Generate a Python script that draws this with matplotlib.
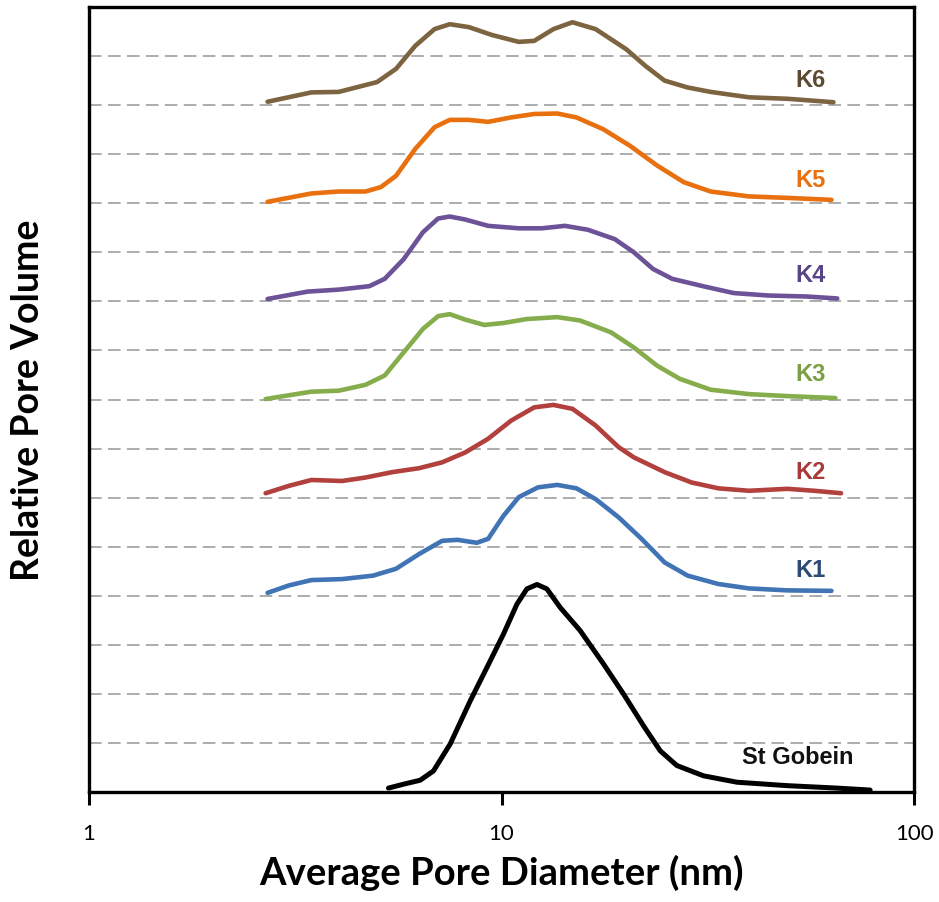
import matplotlib
matplotlib.use("Agg")
import matplotlib.pyplot as plt

# pore diameter (nm) and relative pore volume (curves are stacked with offsets)
k6_d = [2.71, 3.46, 4.03, 4.99, 5.55, 6.18, 6.88, 7.49, 8.34, 9.48, 11.01, 12.00,
        13.36, 14.86, 16.91, 20.06, 22.33, 24.85, 28.27, 32.14, 39.81, 49.32, 63.78]
k6_v = [14.07, 14.26, 14.27, 14.47, 14.74, 15.21, 15.55, 15.65, 15.59, 15.43, 15.29, 15.31,
        15.55, 15.69, 15.55, 15.14, 14.80, 14.50, 14.36, 14.27, 14.16, 14.13, 14.06]

k5_d = [2.71, 3.46, 4.03, 4.68, 5.10, 5.55, 6.18, 6.88, 7.49, 8.34, 9.28, 10.55,
        12.00, 13.65, 15.19, 17.64, 20.50, 23.83, 27.66, 32.14, 39.81, 49.32, 63.06]
k5_v = [12.03, 12.20, 12.24, 12.24, 12.33, 12.56, 13.11, 13.55, 13.70, 13.70, 13.66, 13.75,
        13.82, 13.83, 13.75, 13.51, 13.17, 12.77, 12.43, 12.24, 12.14, 12.11, 12.07]

k4_d = [2.71, 3.39, 4.03, 4.78, 5.21, 5.79, 6.45, 7.02, 7.49, 8.16, 9.28, 11.01,
        12.52, 14.25, 16.20, 18.81, 20.94, 23.31, 25.93, 30.79, 36.54, 44.31, 54.89, 65.14]
k4_v = [10.05, 10.20, 10.24, 10.31, 10.46, 10.86, 11.41, 11.69, 11.73, 11.67, 11.54, 11.49,
        11.49, 11.54, 11.46, 11.27, 11.00, 10.66, 10.46, 10.31, 10.17, 10.12, 10.10, 10.06]

k3_d = [2.68, 3.46, 4.03, 4.68, 5.21, 5.79, 6.45, 7.02, 7.49, 8.16, 9.08, 10.11,
        11.50, 13.65, 15.51, 18.42, 20.94, 23.83, 27.08, 32.14, 39.81, 49.32, 64.47]
k3_v = [8.01, 8.16, 8.18, 8.30, 8.49, 8.96, 9.44, 9.70, 9.74, 9.63, 9.52, 9.56,
        9.64, 9.68, 9.61, 9.37, 9.06, 8.69, 8.42, 8.20, 8.11, 8.07, 8.03]

k2_d = [2.68, 3.05, 3.46, 4.11, 4.68, 5.43, 6.31, 7.18, 8.16, 9.28, 10.55, 12.00,
        13.36, 14.86, 16.91, 19.22, 20.94, 24.85, 28.87, 33.54, 39.81, 49.32, 57.30, 66.55]
k2_v = [6.09, 6.24, 6.36, 6.34, 6.41, 6.52, 6.60, 6.72, 6.92, 7.20, 7.57, 7.84,
        7.89, 7.81, 7.47, 7.03, 6.82, 6.52, 6.31, 6.19, 6.14, 6.18, 6.14, 6.09]

k1_d = [2.71, 3.05, 3.46, 4.11, 4.88, 5.55, 6.31, 7.18, 7.82, 8.71, 9.28, 10.11, 11.01,
        12.26, 13.65, 15.19, 16.91, 19.22, 21.85, 24.85, 28.27, 33.54, 39.81, 49.32, 63.06]
k1_v = [4.06, 4.21, 4.32, 4.34, 4.41, 4.55, 4.85, 5.12, 5.14, 5.08, 5.16, 5.63, 6.01,
        6.21, 6.26, 6.19, 5.97, 5.60, 5.16, 4.68, 4.41, 4.24, 4.15, 4.11, 4.10]

sg_d = [5.32, 5.79, 6.35, 6.84, 7.51, 8.40, 9.22, 10.11, 10.90, 11.52, 12.19, 12.88,
        13.88, 15.51, 17.67, 19.75, 22.09, 24.25, 26.61, 30.88, 37.20, 49.18, 65.01, 78.26]
sg_v = [0.08, 0.16, 0.24, 0.43, 0.98, 1.86, 2.54, 3.22, 3.83, 4.14, 4.23, 4.14,
        3.76, 3.29, 2.61, 2.00, 1.35, 0.84, 0.54, 0.33, 0.20, 0.13, 0.08, 0.04]

names = ["St Gobein", "K1", "K2", "K3", "K4", "K5", "K6"]
label_x = [38.3, 51.5, 51.5, 51.5, 51.5, 51.5, 51.5]
label_y = [0.73, 4.53, 6.54, 8.54, 10.54, 12.49, 14.53]

line_colors = ["#000000", "#4174b4", "#b2403d", "#85ad4c", "#6c5398", "#e8700f", "#7d6440"]
text_colors = ["#111111", "#2c4a72", "#a83a3a", "#7aa043", "#5a4488", "#e8700f", "#5c4a30"]

fig = plt.figure(figsize=(9.39, 9.03), dpi=100)
ax = fig.add_axes([0.0948, 0.1218, 0.8786, 0.8693])

curves = [(sg_d, sg_v), (k1_d, k1_v), (k2_d, k2_v), (k3_d, k3_v),
          (k4_d, k4_v), (k5_d, k5_v), (k6_d, k6_v)]

for i, (d, v) in enumerate(curves):
    lw = 3.6 if i == 0 else 3.3
    ax.plot(d, v, color=line_colors[i], lw=lw, solid_capstyle="round",
            solid_joinstyle="round", zorder=3)
    ax.text(label_x[i], label_y[i], names[i], color=text_colors[i],
            fontsize=17, fontweight="bold", family="Liberation Sans",
            va="center", ha="left", zorder=4)

ax.set_xscale("log")
ax.set_xlim(1, 100)
ax.set_ylim(0, 16)
ax.set_yticks(range(1, 16))
ax.set_yticklabels([])
ax.tick_params(axis="y", length=0)
ax.set_xticks([1, 10, 100])
ax.set_xticklabels(["1", "10", "100"])
ax.xaxis.set_minor_locator(matplotlib.ticker.NullLocator())
ax.tick_params(axis="x", direction="out", length=9, width=2.2, labelsize=16, pad=13)
for lab in ax.get_xticklabels():
    lab.set_family("Lato")

ax.grid(axis="y", color="#a6a6a6", linestyle=(0, (7, 3.5)), lw=1.3, zorder=1)
ax.grid(axis="x", visible=False)

for s in ax.spines.values():
    s.set_linewidth(2.4)
    s.set_color("black")

ax.set_xlabel("Average Pore Diameter (nm)", fontsize=27.5, fontweight="bold",
              family="Lato", labelpad=8)
ax.set_ylabel("Relative Pore Volume", fontsize=27, fontweight="bold",
              family="Lato", labelpad=28)

fig.savefig("out.png", dpi=100)
